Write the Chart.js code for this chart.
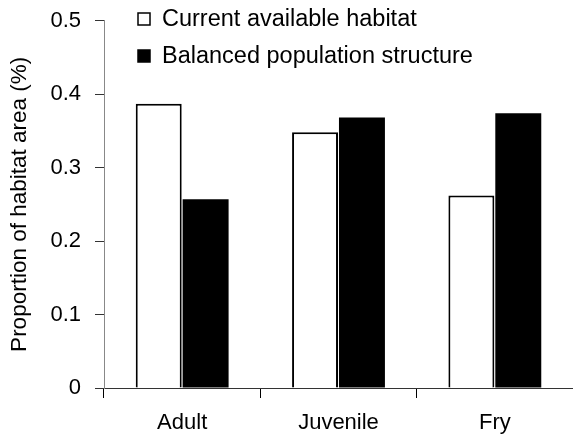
<!DOCTYPE html>
<html>
<head>
<meta charset="utf-8">
<script src="https://cdn.jsdelivr.net/npm/chart.js@4"></script>
<style>
  html, body { margin: 0; padding: 0; background: #fff; }
  #wrap { width: 573px; height: 438px; position: relative; }
</style>
</head>
<body>
<div id="wrap"><canvas id="chart"></canvas></div>
<script>
// ── Data ─────────────────────────────────────────────────────────
const categories   = ['Adult', 'Juvenile', 'Fry'];
const currentHab   = [0.387, 0.348, 0.262];
const balancedPop  = [0.257, 0.368, 0.374];
const seriesNames  = ['Current available habitat', 'Balanced population structure'];
const yTicks       = [0, 0.1, 0.2, 0.3, 0.4, 0.5];

const FONT = 'Liberation Sans, Arial, sans-serif';

// ── Legend drawn inside the plot, top-left ───────────────────────
const boxLegend = {
    id: 'boxLegend',
    afterDraw(chart) {
        const ctx = chart.ctx;
        const rows = [19, 56];
        ctx.save();
        ctx.font = '23.5px ' + FONT;
        ctx.textBaseline = 'middle';
        chart.data.datasets.forEach((ds, i) => {
            const y = rows[i];
            ctx.fillStyle = ds.backgroundColor;
            ctx.fillRect(138, y - 6, 12, 12);
            ctx.strokeStyle = '#000';
            ctx.lineWidth = 1.5;
            ctx.strokeRect(138, y - 6, 12, 12);
            ctx.fillStyle = '#000';
            ctx.fillText(ds.label, 162, y + 1);
        });
        ctx.restore();
    }
};

new Chart(document.getElementById('chart'), {
    type: 'bar',
    data: {
        labels: categories,
        datasets: [
            {
                label: seriesNames[0],
                data: currentHab,
                backgroundColor: '#ffffff',
                borderColor: '#000000',
                borderWidth: 2,
                categoryPercentage: 0.6,
                barPercentage: 0.98
            },
            {
                label: seriesNames[1],
                data: balancedPop,
                backgroundColor: '#000000',
                borderColor: '#000000',
                borderWidth: 0,
                categoryPercentage: 0.6,
                barPercentage: 0.98
            }
        ]
    },
    options: {
        responsive: true,
        maintainAspectRatio: false,
        animation: false,
        layout: { padding: { top: 20, right: 0, left: 0, bottom: 0 } },
        plugins: {
            legend: { display: false },
            tooltip: { enabled: false }
        },
        scales: {
            x: {
                offset: true,
                grid: {
                    offset: true,
                    drawOnChartArea: false,
                    drawTicks: true,
                    tickLength: 10,
                    color: '#000'
                },
                border: { color: '#333', width: 1 },
                ticks: { color: '#000', font: { family: FONT, size: 22 }, padding: 12 },
                afterFit(scale) { scale.height = 50; }
            },
            y: {
                min: 0,
                max: 0.5,
                afterBuildTicks(scale) {
                    scale.ticks = yTicks.map(v => ({ value: v }));
                },
                grid: {
                    drawOnChartArea: false,
                    drawTicks: true,
                    tickLength: 9,
                    color: '#333'
                },
                border: { color: '#888', width: 1 },
                ticks: {
                    color: '#000',
                    font: { family: FONT, size: 22, lineHeight: 0.6 },
                    padding: 14,
                    callback: v => String(v)
                },
                title: {
                    display: true,
                    text: 'Proportion of habitat area (%)',
                    color: '#000',
                    font: { family: FONT, size: 22.5 },
                    padding: { top: 6, bottom: 4 }
                },
                afterFit(scale) { scale.width = 104; }
            }
        }
    },
    plugins: [boxLegend]
});
</script>
</body>
</html>
